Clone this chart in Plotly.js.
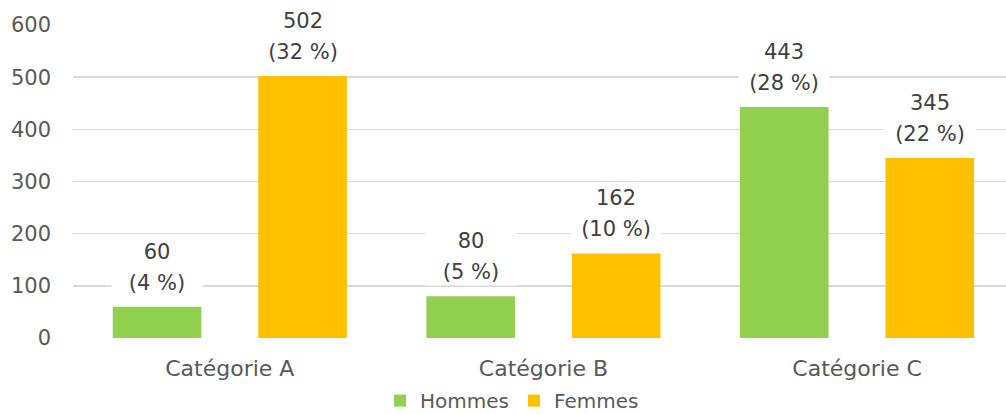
<!DOCTYPE html>
<html>
<head>
<meta charset="utf-8">
<script src="https://cdn.plot.ly/plotly-3.0.1.min.js"></script>
<style>html,body{margin:0;padding:0;background:#fff;}#chart{width:1006px;height:414px;}</style>
</head>
<body>
<div id="chart"></div>
<script>
const categories = ["Catégorie A", "Catégorie B", "Catégorie C"];
const seriesNames = ["Hommes", "Femmes"];
const hommes = [60, 80, 443];
const femmes = [502, 162, 345];
const hommesPct = [4, 5, 28];
const femmesPct = [32, 10, 22];
const yTicks = [0, 100, 200, 300, 400, 500, 600];

const colors = ["#92D050", "#FFC000"];
const FONT = "DejaVu Sans";
const bargap = 0.072, bargroupgap = 0.391;
const slot = (1 - bargap) / 2;

const values = [hommes, femmes];
const pcts = [hommesPct, femmesPct];

const traces = values.map((v, s) => ({
  type: "bar",
  name: seriesNames[s],
  x: categories,
  y: v,
  marker: {color: colors[s]},
  hoverinfo: "x+y+name"
}));

const annotations = [];
values.forEach((v, s) => {
  const off = (s === 0 ? -1 : 1) * slot / 2;
  v.forEach((val, i) => {
    const common = {
      xref: "x", yref: "y", x: i + off, y: val,
      showarrow: false, bgcolor: "#ffffff", width: 88,
      font: {family: FONT, size: 21, color: "#404040"},
      xanchor: "center", yanchor: "middle", borderpad: 1
    };
    annotations.push(Object.assign({}, common, {text: String(val), yshift: 55}));
    annotations.push(Object.assign({}, common, {text: "(" + pcts[s][i] + " %)", yshift: 24}));
  });
});

const layout = {
  width: 1006, height: 414,
  margin: {l: 73, r: 0, t: 25, b: 76, autoexpand: false},
  paper_bgcolor: "#ffffff", plot_bgcolor: "#ffffff",
  barmode: "group", bargap: bargap, bargroupgap: bargroupgap,
  font: {family: FONT, size: 21, color: "#595959"},
  xaxis: {
    type: "category", range: [-0.5, 2.475], automargin: false,
    showgrid: false, zeroline: false, showline: false, ticks: "",
    ticklabelstandoff: 15, tickangle: 0,
    tickfont: {family: FONT, size: 22, color: "#595959"}
  },
  yaxis: {
    range: [0, 600], tickvals: yTicks, ticktext: yTicks.map(String), automargin: false,
    showgrid: true, gridcolor: "#D9D9D9", gridwidth: 1.5,
    zeroline: false, showline: false, ticks: "", ticklabelstandoff: 21,
    tickfont: {family: FONT, size: 21, color: "#595959"}
  },
  showlegend: true,
  legend: {
    orientation: "h", xref: "container", yref: "paper",
    x: 0.509, xanchor: "center", y: -0.2, yanchor: "middle",
    font: {family: FONT, size: 20, color: "#595959"},
    itemwidth: 30, tracegroupgap: 0
  },
  annotations: annotations
};

Plotly.newPlot("chart", traces, layout, {displayModeBar: false, staticPlot: true});
</script>
</body>
</html>
